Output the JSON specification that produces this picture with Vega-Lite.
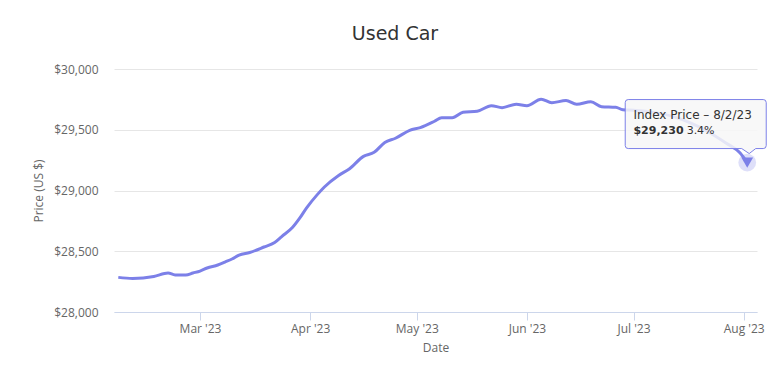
{
  "$schema": "https://vega.github.io/schema/vega-lite/v6.json",
  "width": 643,
  "height": 243,
  "autosize": {"type": "none"},
  "padding": {"left": 114, "top": 69, "right": 11, "bottom": 61},
  "background": "#ffffff",
  "config": {"view": {"stroke": null}, "font": "Open Sans"},
  "title": {"text": "Used Car", "font": "DejaVu Sans", "fontSize": 19, "fontWeight": "normal", "color": "#333333", "anchor": "middle", "dx": -40.5, "offset": 4, "baseline": "alphabetic"},
  "datasets": {
    "series": [
      {"date": "2023-02-06", "price": 28285},
      {"date": "2023-02-10", "price": 28276},
      {"date": "2023-02-13", "price": 28280},
      {"date": "2023-02-16", "price": 28292},
      {"date": "2023-02-20", "price": 28321},
      {"date": "2023-02-22", "price": 28305},
      {"date": "2023-02-25", "price": 28305},
      {"date": "2023-02-27", "price": 28321},
      {"date": "2023-03-01", "price": 28337},
      {"date": "2023-03-03", "price": 28362},
      {"date": "2023-03-06", "price": 28387},
      {"date": "2023-03-08", "price": 28411},
      {"date": "2023-03-10", "price": 28436},
      {"date": "2023-03-12", "price": 28469},
      {"date": "2023-03-15", "price": 28490},
      {"date": "2023-03-19", "price": 28535},
      {"date": "2023-03-22", "price": 28572},
      {"date": "2023-03-24", "price": 28621},
      {"date": "2023-03-27", "price": 28695},
      {"date": "2023-03-29", "price": 28770},
      {"date": "2023-03-31", "price": 28857},
      {"date": "2023-04-03", "price": 28966},
      {"date": "2023-04-05", "price": 29029},
      {"date": "2023-04-09", "price": 29124},
      {"date": "2023-04-12", "price": 29177},
      {"date": "2023-04-16", "price": 29281},
      {"date": "2023-04-19", "price": 29314},
      {"date": "2023-04-22", "price": 29395},
      {"date": "2023-04-25", "price": 29430},
      {"date": "2023-04-29", "price": 29495},
      {"date": "2023-05-02", "price": 29518},
      {"date": "2023-05-06", "price": 29570},
      {"date": "2023-05-08", "price": 29599},
      {"date": "2023-05-11", "price": 29599},
      {"date": "2023-05-14", "price": 29644},
      {"date": "2023-05-18", "price": 29652},
      {"date": "2023-05-22", "price": 29698},
      {"date": "2023-05-25", "price": 29682},
      {"date": "2023-05-29", "price": 29710},
      {"date": "2023-06-01", "price": 29698},
      {"date": "2023-06-05", "price": 29751},
      {"date": "2023-06-08", "price": 29723},
      {"date": "2023-06-12", "price": 29740},
      {"date": "2023-06-15", "price": 29710},
      {"date": "2023-06-19", "price": 29731},
      {"date": "2023-06-22", "price": 29690},
      {"date": "2023-06-26", "price": 29685},
      {"date": "2023-06-28", "price": 29665},
      {"date": "2023-07-01", "price": 29660},
      {"date": "2023-07-06", "price": 29645},
      {"date": "2023-07-12", "price": 29610},
      {"date": "2023-07-17", "price": 29556},
      {"date": "2023-07-22", "price": 29484},
      {"date": "2023-07-27", "price": 29391},
      {"date": "2023-07-31", "price": 29309},
      {"date": "2023-08-02", "price": 29230}
    ],
    "tip": [
      {"date": "2023-08-02", "price": 29230, "heading": "Index Price – 8/2/23", "value": "$29,230", "change": "3.4%"}
    ]
  },
  "encoding": {
    "x": {
      "field": "date", "type": "temporal", "title": "Date",
      "scale": {"type": "utc", "domain": [{"year": 2023, "month": 2, "date": 4, "hours": 19, "utc": true}, {"year": 2023, "month": 8, "date": 4, "hours": 18, "utc": true}]},
      "axis": {"format": "%b '%y", "tickCount": {"interval": "month", "step": 1}, "labelFont": "Open Sans", "labelFontSize": 12, "labelColor": "#666666", "titleFont": "Open Sans", "titleFontSize": 12, "titleFontWeight": "normal", "titleColor": "#666666", "domainColor": "#ccd6eb", "tickColor": "#ccd6eb", "tickSize": 8, "labelPadding": 3, "titlePadding": 8, "grid": false, "labelFlush": false, "labelOverlap": false}
    },
    "y": {
      "field": "price", "type": "quantitative", "title": "Price (US $)",
      "scale": {"domain": [28000, 30000], "zero": false, "nice": false},
      "axis": {"values": [28000, 28500, 29000, 29500, 30000], "format": "$,.0f", "labelFont": "Open Sans", "labelFontSize": 12, "labelColor": "#666666", "titleFont": "Open Sans", "titleFontSize": 12, "titleFontWeight": "normal", "titleColor": "#666666", "domain": false, "ticks": false, "labelPadding": 16, "titlePadding": 8, "grid": true, "gridColor": "#e6e6e6"}
    }
  },
  "layer": [
    {"data": {"name": "series"}, "mark": {"type": "line", "color": "#7c80e8", "strokeWidth": 3, "interpolate": "monotone"}},
    {"data": {"name": "tip"}, "mark": {"type": "point", "shape": "circle", "filled": true, "size": 314, "color": "#7c80e8", "opacity": 0.25}},
    {"data": {"name": "tip"}, "mark": {"type": "point", "shape": "triangle-down", "filled": true, "size": 140, "color": "#7c80e8", "opacity": 1}},
    {"data": {"name": "tip"}, "mark": {"type": "point", "shape": "M-119,-63 H16 Q19,-63 19,-60 V-17 Q19,-14 16,-14 H8.5 L2,-9 L-5.5,-14 H-119 Q-122,-14 -122,-17 V-60 Q-122,-63 -119,-63 Z", "size": 4, "filled": true, "fill": "#f7f7f7", "fillOpacity": 0.85, "stroke": "#7c80e8", "strokeWidth": 1, "opacity": 1}},
    {"data": {"name": "tip"}, "mark": {"type": "text", "align": "left", "baseline": "alphabetic", "dx": -113.8, "dy": -43.5, "font": "DejaVu Sans", "fontSize": 12, "color": "#333333"}, "encoding": {"text": {"field": "heading"}}},
    {"data": {"name": "tip"}, "mark": {"type": "text", "align": "left", "baseline": "alphabetic", "dx": -113.8, "dy": -28.6, "font": "DejaVu Sans", "fontSize": 11, "fontWeight": "bold", "color": "#333333"}, "encoding": {"text": {"field": "value"}}},
    {"data": {"name": "tip"}, "mark": {"type": "text", "align": "left", "baseline": "alphabetic", "dx": -60.6, "dy": -28.6, "font": "DejaVu Sans", "fontSize": 11, "color": "#333333"}, "encoding": {"text": {"field": "change"}}}
  ]
}
